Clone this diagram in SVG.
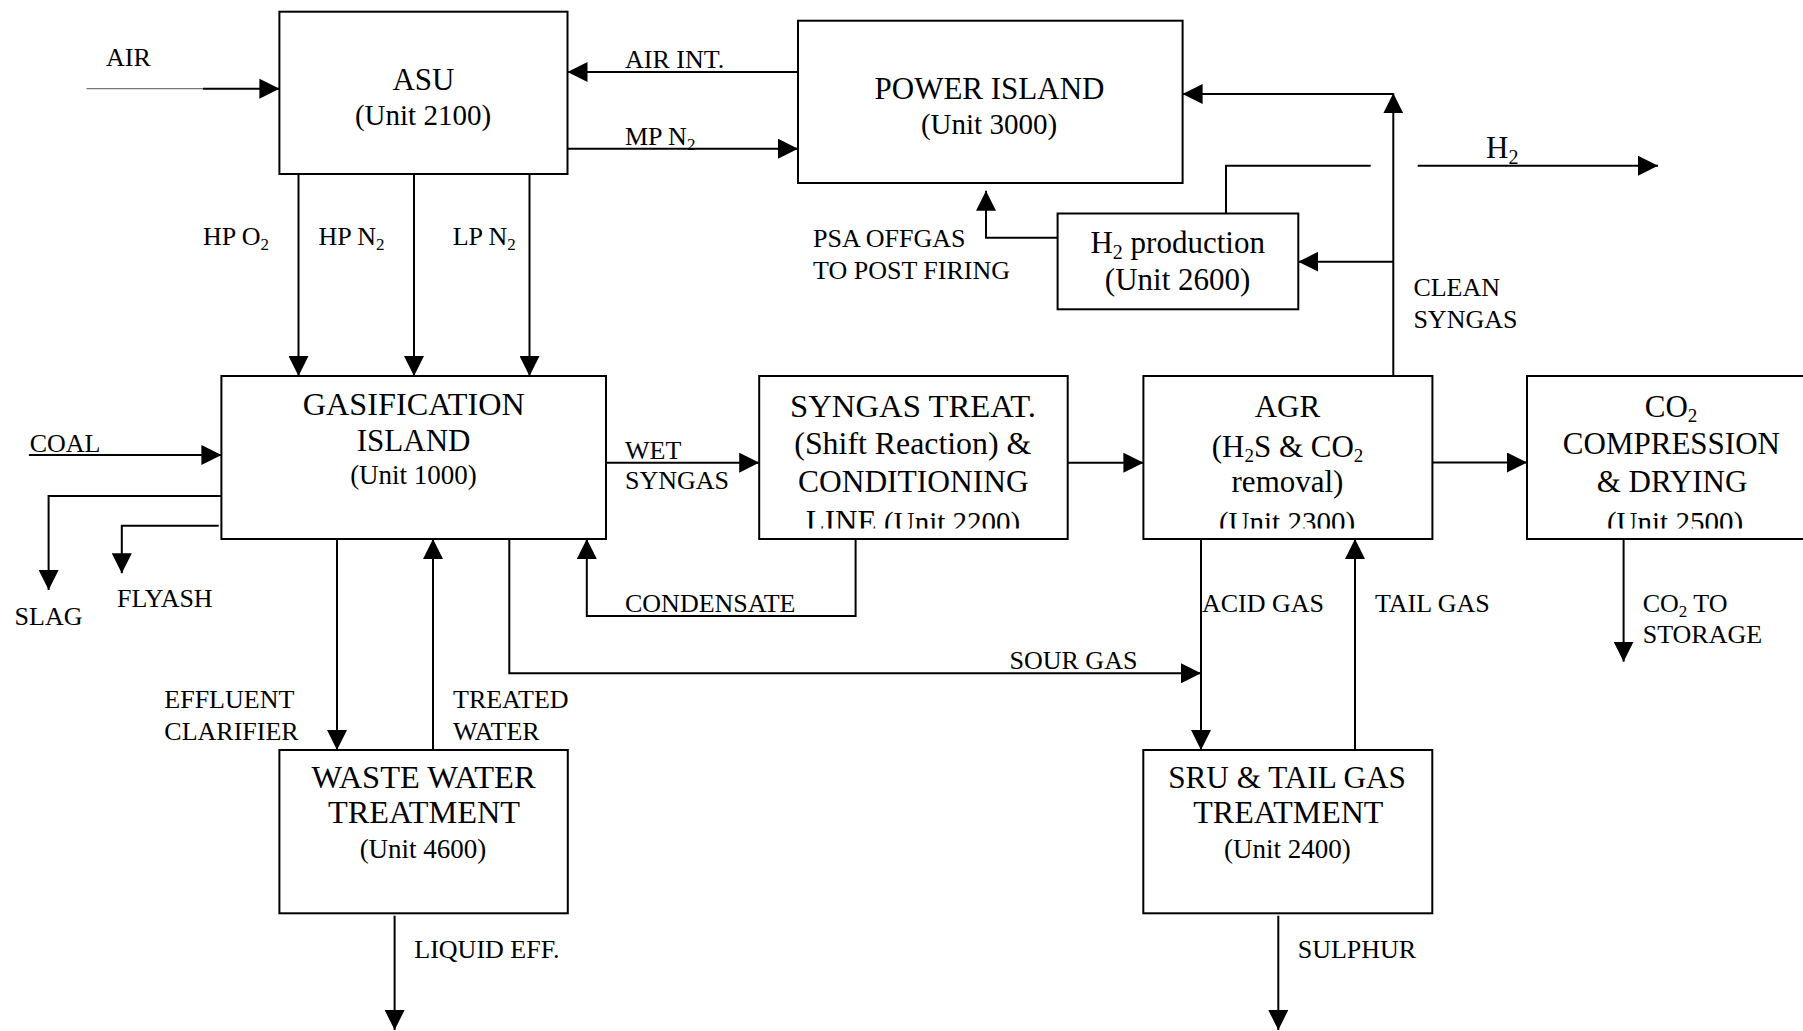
<svg xmlns="http://www.w3.org/2000/svg" width="1803" height="1031" viewBox="0 0 1803 1031">
<defs>
<marker id="ah" viewBox="0 0 20 20" markerWidth="20" markerHeight="20" markerUnits="userSpaceOnUse" refX="20" refY="10" orient="auto"><path d="M0,0 L20,10 L0,20 Z" fill="#000"/></marker>
<clipPath id="cut"><rect x="0" y="0" width="1803" height="528.5"/></clipPath>
</defs>
<style>
.box{fill:#fff;stroke:#000;stroke-width:2}
.c{fill:none;stroke:#000;stroke-width:2}
.a{marker-end:url(#ah)}
text{font-family:"Liberation Serif","Times New Roman",serif;fill:#000}
.t{font-size:31px;text-anchor:middle}
.u{font-size:29px;text-anchor:middle}
.l{font-size:26px}
</style>
<rect width="1803" height="1031" fill="#fff"/>

<g id="asu">
<rect class="box" x="279.4" y="11.7" width="288.1" height="162.3"/>
<text class="t" x="423.5" y="90">ASU</text>
<text class="u" x="423" y="124.5">(Unit 2100)</text>
</g>

<g id="power-island">
<rect class="box" x="798" y="20.7" width="384.6" height="162.3"/>
<text class="t" x="989.5" y="99">POWER ISLAND</text>
<text class="u" x="989" y="134">(Unit 3000)</text>
</g>

<g id="h2-production">
<rect class="box" x="1057.6" y="213.5" width="240.7" height="95.8"/>
<text class="t" x="1177.7" y="253">H<tspan font-size="20" dy="6">2</tspan><tspan dy="-6"> production</tspan></text>
<text class="t" x="1177.6" y="290">(Unit 2600)</text>
</g>

<g id="gasification">
<rect class="box" x="221.4" y="376" width="384.6" height="163"/>
<text class="t" x="413.8" y="415" textLength="222" lengthAdjust="spacingAndGlyphs">GASIFICATION</text>
<text class="t" x="413.6" y="451">ISLAND</text>
<text class="u" x="413.5" y="484" style="font-size:27px">(Unit 1000)</text>
</g>

<g id="syngas-treat">
<rect class="box" x="759.2" y="376" width="308.5" height="163"/>
<text class="t" x="913" y="416.7" textLength="246" lengthAdjust="spacingAndGlyphs">SYNGAS TREAT.</text>
<text class="t" x="912.8" y="454.3" textLength="237" lengthAdjust="spacingAndGlyphs">(Shift Reaction) &amp;</text>
<text class="t" x="913.3" y="492.3" textLength="230.6" lengthAdjust="spacingAndGlyphs">CONDITIONING</text>
<text class="t" x="913" y="532" clip-path="url(#cut)">LINE <tspan style="font-size:29px">(Unit 2200)</tspan></text>
</g>

<g id="agr">
<rect class="box" x="1143.4" y="376" width="289" height="163"/>
<text class="t" x="1287.4" y="416.7">AGR</text>
<text class="t" x="1287.5" y="456.7">(H<tspan font-size="19" dy="5">2</tspan><tspan dy="-5">S &amp; CO</tspan><tspan font-size="19" dy="5">2</tspan></text>
<text class="t" x="1287.5" y="491.7">removal)</text>
<text class="u" x="1287" y="532" clip-path="url(#cut)">(Unit 2300)</text>
</g>

<g id="co2-compression">
<rect class="box" x="1527" y="376" width="290" height="163"/>
<text class="t" x="1671" y="417.3">CO<tspan font-size="19" dy="5">2</tspan></text>
<text class="t" x="1671.4" y="454.3">COMPRESSION</text>
<text class="t" x="1672" y="492.3">&amp; DRYING</text>
<text class="u" x="1675" y="532" clip-path="url(#cut)">(Unit 2500)</text>
</g>

<g id="waste-water">
<rect class="box" x="279.4" y="750" width="288.4" height="163.3"/>
<text class="t" x="423.6" y="788.3" textLength="224" lengthAdjust="spacingAndGlyphs">WASTE WATER</text>
<text class="t" x="424" y="823.3" textLength="192" lengthAdjust="spacingAndGlyphs">TREATMENT</text>
<text class="u" x="423" y="858.3" style="font-size:27px">(Unit 4600)</text>
</g>

<g id="sru">
<rect class="box" x="1143.3" y="750" width="289" height="163.3"/>
<text class="t" x="1287" y="788.3" textLength="237.7" lengthAdjust="spacingAndGlyphs">SRU &amp; TAIL GAS</text>
<text class="t" x="1288.3" y="823.3" textLength="190" lengthAdjust="spacingAndGlyphs">TREATMENT</text>
<text class="u" x="1287.3" y="858.3" style="font-size:27px">(Unit 2400)</text>
</g>

<g id="connectors">
<path d="M86.5,88.7 H203" fill="none" stroke="#555" stroke-width="1"/>
<path class="c a" d="M203,88.7 H279.4"/>
<path class="c a" d="M798,72 H567.5"/>
<path class="c a" d="M567.5,148.7 H798"/>
<path class="c a" d="M298.5,174 V376"/>
<path class="c a" d="M414,174 V376"/>
<path class="c a" d="M529.5,174 V376"/>
<path class="c a" d="M1393.3,376 V93.3"/>
<path class="c a" d="M1393.3,94 H1182.6"/>
<path class="c a" d="M1393.3,261.7 H1298.3"/>
<path class="c" d="M1226,213.5 V165.7 H1370.7"/>
<path class="c a" d="M1417.7,165.7 H1658"/>
<path class="c a" d="M1057.6,237.7 H986 V190.7"/>
<path class="c a" d="M28.9,455 H221.4"/>
<path class="c a" d="M221.4,496 H48.6 V590"/>
<path class="c a" d="M218.7,525.7 H121.8 V573.3"/>
<path class="c a" d="M606,462.7 H759.2"/>
<path class="c a" d="M1067.7,462.7 H1143.4"/>
<path class="c a" d="M1432.4,462.5 H1527"/>
<path class="c a" d="M1623.6,539 V661.7"/>
<path class="c a" d="M855.6,539 V616 H586.8 V539"/>
<path class="c a" d="M509.3,539 V673.3 H1201"/>
<path class="c a" d="M1201,539 V750"/>
<path class="c a" d="M1355,750 V539"/>
<path class="c a" d="M337,539 V750"/>
<path class="c a" d="M433,750 V539"/>
<path class="c a" d="M394.6,915.7 V1030"/>
<path class="c a" d="M1278.3,915.7 V1030"/>
</g>

<g id="labels">
<text class="l" x="106" y="65.7">AIR</text>
<text class="l" x="625" y="67.7">AIR INT.</text>
<text class="l" x="625" y="145">MP N<tspan font-size="17" dy="5">2</tspan></text>
<text class="l" x="203" y="245">HP O<tspan font-size="17" dy="5">2</tspan></text>
<text class="l" x="318.4" y="245">HP N<tspan font-size="17" dy="5">2</tspan></text>
<text class="l" x="452.7" y="245">LP N<tspan font-size="17" dy="5">2</tspan></text>
<text class="l" x="813" y="247">PSA OFFGAS</text>
<text class="l" x="813" y="279">TO POST FIRING</text>
<text x="1486" y="157.7" style="font-size:31px">H<tspan font-size="20" dy="6">2</tspan></text>
<text class="l" x="1413.4" y="296">CLEAN</text>
<text class="l" x="1413.4" y="328">SYNGAS</text>
<text class="l" x="29.7" y="451.7">COAL</text>
<text class="l" x="14.6" y="625">SLAG</text>
<text class="l" x="117" y="607.3">FLYASH</text>
<text class="l" x="625" y="459">WET</text>
<text class="l" x="625" y="489.3">SYNGAS</text>
<text class="l" x="625" y="611.7">CONDENSATE</text>
<text class="l" x="1009.5" y="669.3">SOUR GAS</text>
<text class="l" x="1202" y="611.7">ACID GAS</text>
<text class="l" x="1375" y="611.7">TAIL GAS</text>
<text class="l" x="1642.7" y="611.7">CO<tspan font-size="17" dy="5">2</tspan><tspan dy="-5"> TO</tspan></text>
<text class="l" x="1642.7" y="643.3">STORAGE</text>
<text class="l" x="164.3" y="708.3">EFFLUENT</text>
<text class="l" x="164.3" y="740">CLARIFIER</text>
<text class="l" x="453" y="708.3">TREATED</text>
<text class="l" x="453" y="740">WATER</text>
<text class="l" x="414.3" y="958.3">LIQUID EFF.</text>
<text class="l" x="1297.7" y="958.3">SULPHUR</text>
</g>
</svg>
